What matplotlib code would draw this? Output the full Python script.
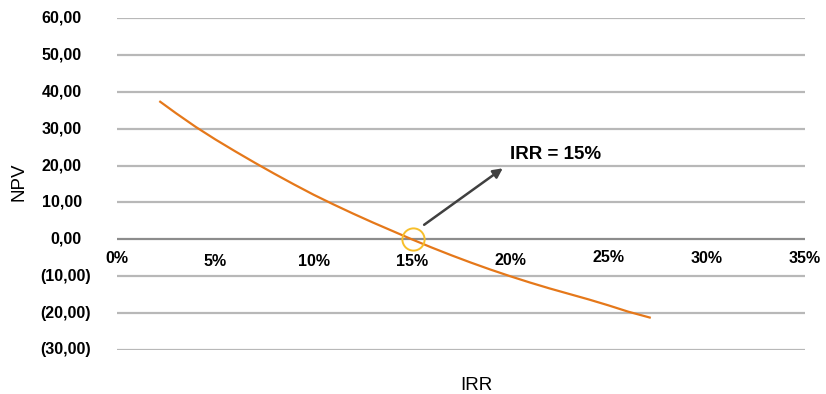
import matplotlib.pyplot as plt

plt.rcParams['font.family'] = ['Liberation Sans', 'DejaVu Sans']

# discount rate (%) and net present value
rate = [2.2, 3, 4, 5, 6, 7, 8, 9, 10, 11, 12, 13, 14, 15,
        16, 17, 18, 19, 20, 21, 22, 23, 24, 25, 26, 27.1]
npv = [37.3, 34.2, 30.5, 27.1, 23.9, 20.8, 17.8, 14.9, 12.1, 9.5, 7.0, 4.6, 2.3, 0.0,
       -2.2, -4.3, -6.3, -8.2, -10.0, -11.7, -13.3, -14.8, -16.3, -17.9, -19.6, -21.2]

irr = 15.05
y_ticks = [-30, -20, -10, 0, 10, 20, 30, 40, 50, 60]
x_ticks = [0, 5, 10, 15, 20, 25, 30, 35]
x_label_drop = [0, 3, 3, 3, 2, -1, 0, 0]   # px, slight baseline jitter

def fmt(v):
    s = ('%.2f' % abs(v)).replace('.', ',')
    return '(%s)' % s if v < 0 else s

fig = plt.figure(figsize=(8.26, 3.94), dpi=100)
ax = fig.add_axes([0.1416, 0.1117, 0.8330, 0.8426])

for v in y_ticks:
    ax.axhline(v, color='#8c8c8c' if v == 0 else '#b8b8b8', lw=1.6, zorder=1)

ax.plot(rate, npv, color='#e5781a', lw=1.6, zorder=3, solid_joinstyle='round')

# IRR marker and callout
ax.plot([irr], [0], 'o', ms=16, mfc='none', mec='#f7bf2a', mew=1.4, zorder=4)
ax.annotate('', xy=(19.74, 19.7), xytext=(15.51, 3.5),
            arrowprops=dict(arrowstyle='-|>', color='#404040', lw=1.8,
                            mutation_scale=14), zorder=5)
ax.text(20.0, 23.0, 'IRR = 15%', fontsize=13.5, fontweight='bold',
        ha='left', va='center')

ax.set_xlim(0, 35)
ax.set_ylim(-30, 60)
ax.set_xticks([])
ax.set_yticks([])
for s in ax.spines.values():
    s.set_visible(False)

# y labels: digits of positives line up left of the negatives' parenthesis
for v in y_ticks:
    off = -26 if v < 0 else -35
    ax.annotate(fmt(v), xy=(0, v), xytext=(off * 0.72, 0), textcoords='offset points',
                ha='right', va='center', fontsize=11.5, fontweight='bold',
                annotation_clip=False)

# x tick labels sit just under the zero line
for v, d in zip(x_ticks, x_label_drop):
    ax.annotate('%d%%' % v, xy=(v, 0), xytext=(0, -(19 + d) * 0.72),
                textcoords='offset points', ha='center', va='center',
                fontsize=11.5, fontweight='bold', annotation_clip=False)

fig.text(19 / 826, 1 - 182 / 394, 'NPV', rotation=90, fontsize=13.5,
         ha='center', va='center')
fig.text(476 / 826, 1 - 385 / 394, 'IRR', fontsize=13.5, ha='center', va='center')

fig.savefig('out.png', dpi=100)
